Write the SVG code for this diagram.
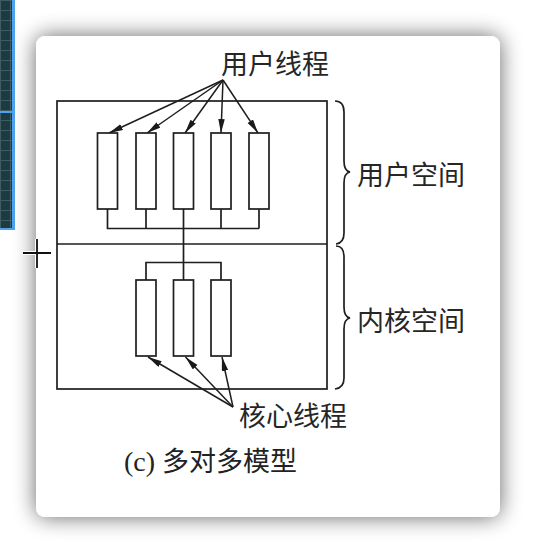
<svg xmlns="http://www.w3.org/2000/svg" width="536" height="554" viewBox="0 0 536 554">
  <defs>
    <filter id="shadow" x="-20%" y="-20%" width="140%" height="140%">
      <feGaussianBlur in="SourceAlpha" stdDeviation="11"/>
      <feComponentTransfer><feFuncA type="linear" slope="0.6"/></feComponentTransfer>
      <feMerge><feMergeNode/><feMergeNode in="SourceGraphic"/></feMerge>
    </filter>
    <pattern id="grid" width="10" height="10" patternUnits="userSpaceOnUse">
      <rect width="10" height="10" fill="#1d3a40"/>
      <path d="M0,0.5 H10 M0.5,0 V10" stroke="#3f5c62" stroke-width="1"/>
    </pattern>
    <marker id="ah" markerUnits="userSpaceOnUse" markerWidth="16" markerHeight="8" refX="14" refY="3.25" orient="auto">
      <path d="M0,0 L14,3.25 L0,6.5 z" fill="#1a1a1a"/>
    </marker>
    <style>
      .ln { stroke: #1e1e1e; stroke-width: 1.7; fill: none; }
      .box { stroke: #1e1e1e; stroke-width: 1.7; fill: #ffffff; }
      .arr { stroke: #1e1e1e; stroke-width: 1.5; fill: none; marker-end: url(#ah); }
      .cn { font-family: "Noto Sans CJK SC", "Noto Sans", sans-serif; font-size: 27px; fill: #262626; }
      .cap { font-family: "Liberation Serif", "Noto Sans CJK SC", serif; font-size: 28px; fill: #222; }
    </style>
  </defs>

  <rect width="536" height="554" fill="#ffffff"/>

  <!-- left strip -->
  <rect x="0" y="0" width="13" height="229" fill="url(#grid)"/>
  <rect x="12" y="0" width="3" height="230" fill="#4da3f0"/>
  <rect x="0" y="111" width="13" height="2" fill="#4da3f0"/>
  <rect x="0" y="228" width="15" height="2" fill="#4da3f0"/>

  <!-- card -->
  <rect x="36" y="36" width="464" height="481" rx="9" fill="#ffffff" filter="url(#shadow)"/>

  <!-- outer space box -->
  <g id="space-box">
    <rect class="ln" x="57" y="101" width="270" height="288"/>
    <line class="ln" x1="57" y1="244" x2="327" y2="244"/>
  </g>

  <!-- connectors -->
  <g id="connectors">
    <path class="ln" d="M107.5,209 V228.5 H259 M146,209 V228.5 M221,209 V228.5 M259,209 V228.5"/>
    <path class="ln" d="M183.5,209 V280 M146,280 V262.5 H221 V280"/>
    <line class="arr" x1="223" y1="80" x2="109" y2="133"/>
    <line class="arr" x1="223" y1="80" x2="147" y2="133"/>
    <line class="arr" x1="223" y1="80" x2="185" y2="133"/>
    <line class="arr" x1="223" y1="80" x2="221" y2="133"/>
    <line class="arr" x1="223" y1="80" x2="258" y2="133"/>
    <line class="arr" x1="233" y1="407" x2="148" y2="357"/>
    <line class="arr" x1="233" y1="407" x2="185.5" y2="357"/>
    <line class="arr" x1="233" y1="407" x2="222" y2="357"/>
  </g>

  <!-- user threads -->
  <g id="user-thread-1"><rect class="box" x="97.5" y="133" width="20" height="76"/></g>
  <g id="user-thread-2"><rect class="box" x="136" y="133" width="20" height="76"/></g>
  <g id="user-thread-3"><rect class="box" x="173.5" y="133" width="20" height="76"/></g>
  <g id="user-thread-4"><rect class="box" x="211" y="133" width="20" height="76"/></g>
  <g id="user-thread-5"><rect class="box" x="249" y="133" width="20" height="76"/></g>

  <!-- kernel threads -->
  <g id="kernel-thread-1"><rect class="box" x="136" y="280" width="20" height="76"/></g>
  <g id="kernel-thread-2"><rect class="box" x="173.5" y="280" width="20" height="76"/></g>
  <g id="kernel-thread-3"><rect class="box" x="211" y="280" width="20" height="76"/></g>

  <!-- braces -->
  <g id="brace-user">
    <path class="ln" stroke-width="1.5" d="M335,101 Q344,101 344,112 L344,161 Q344,171 350,172 Q344,173 344,183 L344,233 Q344,243 336,244"/>
  </g>
  <g id="brace-kernel">
    <path class="ln" stroke-width="1.5" d="M336,246 Q344,246 344,257 L344,307 Q344,317 350,318 Q344,319 344,329 L344,378 Q344,388 335,389"/>
  </g>

  <!-- labels -->
  <g id="label-user-thread"><text class="cn" x="221" y="74">用户线程</text></g>
  <g id="label-user-space"><text class="cn" x="357" y="185">用户空间</text></g>
  <g id="label-kernel-space"><text class="cn" x="357" y="331">内核空间</text></g>
  <g id="label-kernel-thread"><text class="cn" x="239" y="426">核心线程</text></g>
  <g id="caption"><text class="cap" x="124" y="471">(c) <tspan font-family="Noto Sans CJK SC, sans-serif" font-size="27">多对多模型</tspan></text></g>

  <!-- cursor -->
  <g id="cursor">
    <path d="M23,253 H51 M37,239 V268" stroke="#ffffff" stroke-width="4"/>
    <path d="M23,253 H51 M37,239 V268" stroke="#111111" stroke-width="1.8"/>
  </g>
</svg>
